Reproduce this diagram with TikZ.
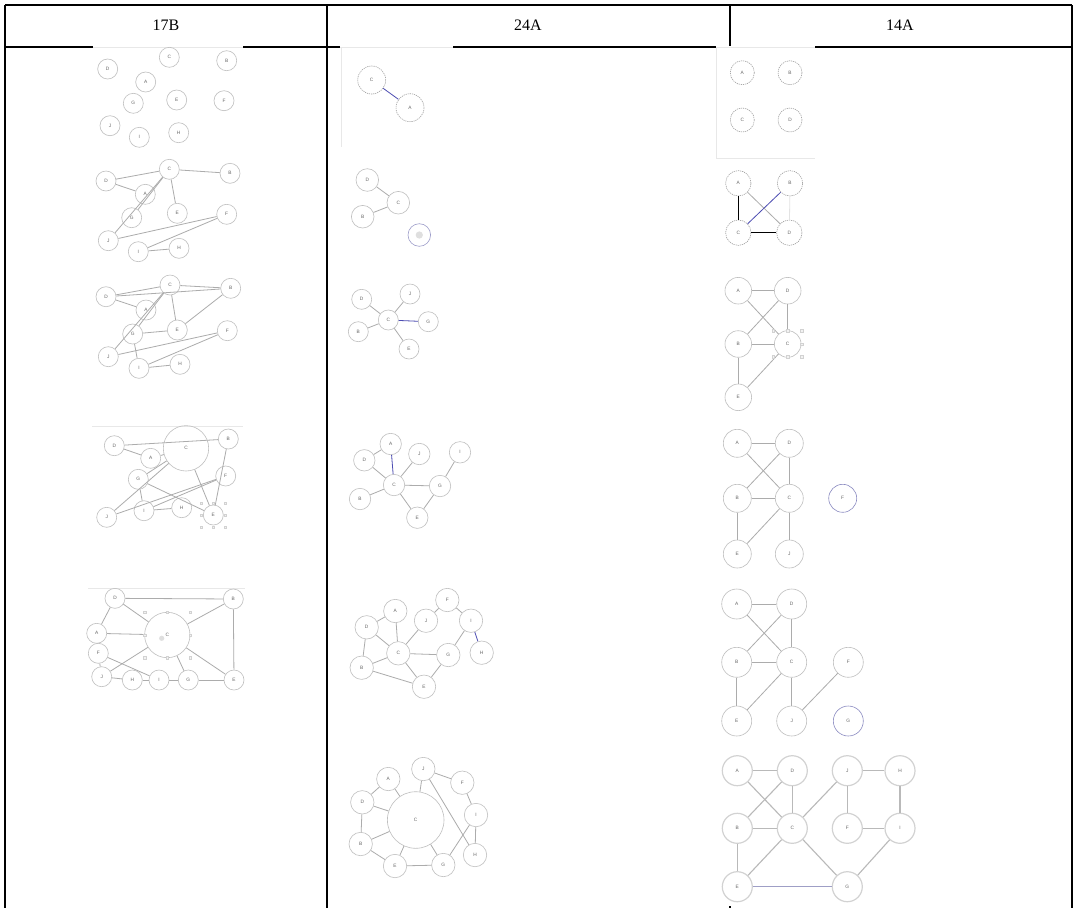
\documentclass[tikz,border=0pt]{standalone}
\usepackage{fontspec}
\setmainfont{Liberation Serif}
\newfontfamily\lblfont{Liberation Sans}
\begin{document}
\begin{tikzpicture}[x=1pt,y=-1pt,
  nd/.style={circle,draw=gray!50,line width=0.6pt,inner sep=0pt,minimum size=20pt,
    font=\lblfont\fontsize{4.8}{4.8}\selectfont,text=gray!80!black},
  dnd/.style={nd,draw=gray!75,dash pattern=on 1.2pt off 0.9pt},
  ed/.style={draw=gray!65,line width=0.8pt},
  sel/.style={draw=blue!40!gray,line width=0.8pt},
  rulel/.style={line width=1.2pt,draw=black},
  faint/.style={draw=gray!18,line width=0.6pt},
  hsq/.style={draw=gray!35,fill=gray!10,line width=0.3pt,minimum size=2.5pt,inner sep=0pt,rectangle},
  hdr/.style={font=\fontsize{16}{16}\selectfont}]
\useasboundingbox (0,0) rectangle (1075,911);
\fill[white] (0,0) rectangle (1075,911);
% table
\draw[rulel] (5,5) -- (1072,5);
\draw[rulel] (5,47) -- (1072,47);
\foreach \xx in {5,327,730,1072} \draw[rulel] (\xx,5) -- (\xx,908);
\node[hdr] (h1) at (166,25) {17B};
\node[hdr] (h2) at (528,25) {24A};
\node[hdr] (h3) at (900,25) {14A};
% pasted screenshots covering the rules
\fill[white] (93,45.6) rectangle (243,48.6);
\fill[white] (340,45.6) rectangle (453,48.6);
\fill[white] (716,45.6) rectangle (815,48.6);
\draw[faint] (93,47) -- (243,47);
\draw[faint] (340,47) -- (453,47);
\draw[faint] (716,47) -- (815,47);
\fill[white] (728,48.6) rectangle (732,906);
% faint screenshot edges
\draw[faint] (92,426) -- (243,426);
\draw[faint] (88,588) -- (245,588);
\draw[faint] (341.7,48) -- (341.7,147);
\draw[faint] (716.7,48) -- (716.7,158) -- (815,158);
% ===== column 17B =====
\foreach \n/\x/\y in {D/107.7/69,C/169.3/57.3,B/226.7/60.7,A/145.7/82,G/133.3/103.3,E/176.7/100,F/224/100.7,J/110/125.7,I/139.3/137.3,H/178.7/132.7}
  \node[nd] (a\n) at (\x,\y) {\n};
\foreach \n/\x/\y in {D/106/181,C/169.3/169.3,B/230/173.3,A/145.3/194.3,G/131.7/217.7,E/177.3/213.3,F/226.7/214.3,J/108.3/240.7,I/138.3/251.7,H/179/248.3}
  \node[nd] (b\n) at (\x,\y) {\n};
\foreach \p/\q in {D/C,C/B,D/A,C/J,C/G,C/E,J/F,I/F,I/H}
  \draw[ed] (b\p) -- (b\q);
\foreach \n/\x/\y in {D/106/296.7,C/170/285,B/230.7/288.3,A/146/310,G/132.7/334,E/177.3/330,F/227.3/330.7,J/108.3/356.7,I/139/368.3,H/180/364.3}
  \node[nd] (c\n) at (\x,\y) {\n};
\foreach \p/\q in {D/C,D/B,C/B,D/A,C/J,C/G,C/E,B/E,G/E,J/F,I/F,I/H,G/I}
  \draw[ed] (c\p) -- (c\q);
\foreach \n/\x/\y in {D/114.3/445.7,B/228.3/439,A/150.7/458.3,G/138.3/479.3,F/225.7/476,J/106.7/517.3,I/144/510.7,H/181.7/507.7,E/213.3/515}
  \node[nd] (d\n) at (\x,\y) {\n};
\node[nd,minimum size=45.4pt] (dC) at (186,448.3) {C};
\foreach \p/\q in {D/B,D/A,A/C,J/C,G/C,G/E,J/F,I/F,I/H,C/E,B/E,G/I}
  \draw[ed] (d\p) -- (d\q);
\foreach \dx/\dy in {-12/-12,0/-12,12/-12,-12/0,12/0,-12/12,0/12,12/12}
  \node[hsq] at ([shift={(\dx,\dy)}]dE.center) {};
\foreach \n/\x/\y in {D/115/598.3,B/233.3/599,A/96.7/633.3,F/98.3/653.3,J/101.7/676.7,H/132.3/680,I/159/680,G/188.3/680,E/234/680}
  \node[nd] (e\n) at (\x,\y) {\n};
\node[nd,minimum size=45.4pt] (eC) at (167.3,635) {C};
\fill[gray!25] (161.7,638.3) circle (2.6);
\foreach \p/\q in {D/B,D/A,D/C,A/C,C/B,C/J,F/I,F/J,J/H,H/I,I/G,G/E,C/G,C/E,B/E}
  \draw[ed] (e\p) -- (e\q);
\foreach \dx/\dy in {-22.7/-22.7,0/-22.7,22.7/-22.7,-22.7/0,22.7/0,-22.7/22.7,0/22.7,22.7/22.7}
  \node[hsq] at ([shift={(\dx,\dy)}]eC.center) {};
% ===== column 24A =====
\node[dnd,minimum size=28pt] (fC) at (371.7,80) {C};
\node[dnd,minimum size=28pt] (fA) at (410,107.7) {A};
\draw[sel] (fC) -- (fA);
\begin{scope}[nd/.append style={minimum size=22.6pt}]
\foreach \n/\x/\y in {D/367.3/180,C/398.3/202.7,B/362.7/216.7}
  \node[nd] (g\n) at (\x,\y) {\n};
\node[nd,draw=blue!30!gray!60] (gX) at (419.3,235) {};
\end{scope}
\fill[gray!25] (gX.center) circle (3.6);
\foreach \p/\q in {D/C,B/C} \draw[ed] (g\p) -- (g\q);
\foreach \n/\x/\y in {D/361.7/299.3,J/410/294,C/388.3/320,G/428.3/321.7,B/358.3/331.7,E/409/349}
  \node[nd] (h\n) at (\x,\y) {\n};
\foreach \p/\q in {D/C,J/C,B/C,C/E} \draw[ed] (h\p) -- (h\q);
\draw[sel] (hC) -- (hG);
\begin{scope}[nd/.append style={minimum size=21.4pt}]
\foreach \n/\x/\y in {A/390.7/444,D/364.3/460.3,J/419.3/454,I/460/452.3,C/394/485,G/440/486,B/360/499,E/417.3/517.7}
  \node[nd] (i\n) at (\x,\y) {\n};
\end{scope}
\foreach \p/\q in {D/A,D/C,J/C,C/G,B/C,C/E,E/G,G/I} \draw[ed] (i\p) -- (i\q);
\draw[sel] (iA) -- (iC);
\begin{scope}[nd/.append style={minimum size=23.4pt}]
\foreach \n/\x/\y in {F/447.3/600,A/395.3/611,J/426/620.7,I/471/620.7,D/366.7/627.3,C/398.3/653.3,G/448.3/655,H/481.7/652.7,B/361.7/667.7,E/424/686.7}
  \node[nd] (j\n) at (\x,\y) {\n};
\end{scope}
\foreach \p/\q in {D/A,A/C,D/C,D/B,B/C,B/E,C/J,C/G,C/E,E/G,G/I,J/F,F/I} \draw[ed] (j\p) -- (j\q);
\draw[sel] (jI) -- (jH);
\begin{scope}[nd/.append style={minimum size=23.4pt}]
\foreach \n/\x/\y in {J/423.3/769,A/388.3/779,F/462.3/782.7,D/362.3/802.3,I/476/815,B/360.7/844,H/475/855,E/395/866,G/443.3/865}
  \node[nd] (k\n) at (\x,\y) {\n};
\node[nd,minimum size=56.6pt] (kC) at (415.7,820) {C};
\end{scope}
\foreach \p/\q in {D/A,A/C,D/C,D/B,B/C,B/E,E/C,E/G,G/C,G/I,J/C,J/F,J/H,F/I,I/H} \draw[ed] (k\p) -- (k\q);
% ===== column 14A =====
\begin{scope}[nd/.append style={minimum size=24pt}]
\foreach \n/\x/\y in {A/742.3/72.7,B/790/72.7,C/742.3/120,D/790/120}
  \node[dnd] (l\n) at (\x,\y) {\n};
\end{scope}
\begin{scope}[nd/.append style={minimum size=25.4pt}]
\foreach \n/\x/\y in {A/738.3/183.3,B/790/183.3,C/738.3/232.7,D/789.3/232.7}
  \node[dnd] (m\n) at (\x,\y) {\n};
\end{scope}
\draw[line width=0.8pt,black] (mA) -- (mC);
\draw[line width=0.8pt,black] (mC) -- (mD);
\draw[ed] (mA) -- (mD);
\draw[sel] (mB) -- (mC);
\draw[draw=gray!22,line width=0.8pt] (mB) -- (mD);
\begin{scope}[nd/.append style={minimum size=26.6pt}]
\foreach \n/\x/\y in {A/738.3/290.7,D/787.7/290.7,B/738.3/344,C/787.7/344,E/738.3/397.3}
  \node[nd] (n\n) at (\x,\y) {\n};
\end{scope}
\foreach \p/\q in {A/D,A/C,D/B,D/C,B/C,B/E,E/C} \draw[ed] (n\p) -- (n\q);
\foreach \dx/\dy in {-14.4/-13.3,0/-13.3,14/-13.3,14/0,-14.4/12.7,0/12.7,14/12.7}
  \node[hsq] at ([shift={(\dx,\dy)}]nC.center) {};
\begin{scope}[nd/.append style={minimum size=28pt}]
\foreach \n/\x/\y in {A/737.3/443.3,D/789.3/443.3,B/737.3/498.3,C/789.3/498.3,E/737.3/554,J/789.3/554}
  \node[nd] (o\n) at (\x,\y) {\n};
\node[nd,draw=blue!30!gray!70] (oF) at (842.7,498.3) {F};
\end{scope}
\foreach \p/\q in {A/D,A/C,D/B,D/C,B/C,B/E,E/C,C/J} \draw[ed] (o\p) -- (o\q);
\begin{scope}[nd/.append style={minimum size=30pt}]
\foreach \n/\x/\y in {A/736.7/604,D/791.7/604,B/736.7/662.3,C/791.7/662.3,F/848.3/662.3,E/736.7/721,J/791.7/721}
  \node[nd] (p\n) at (\x,\y) {\n};
\node[nd,draw=blue!30!gray!70] (pG) at (848.3,721) {G};
\end{scope}
\foreach \p/\q in {A/D,A/C,D/B,D/C,B/C,B/E,E/C,C/J,J/F} \draw[ed] (p\p) -- (p\q);
\begin{scope}[nd/.append style={minimum size=30pt,draw=gray!35,line width=1.2pt}]
\foreach \n/\x/\y in {A/737.3/770.7,D/792.3/770.7,J/847.3/770.7,H/900/770.7,B/737.3/828.3,C/792.3/828.3,F/847.3/828.3,I/900/828.3,E/737.3/886.7,G/847.3/886.7}
  \node[nd] (r\n) at (\x,\y) {\n};
\end{scope}
\foreach \p/\q in {A/D,A/C,D/B,D/C,B/C,B/E,E/C,C/J,C/G,J/H,J/F,F/I,H/I,I/G}
  \draw[ed,draw=gray!55,line width=1.1pt] (r\p) -- (r\q);
\draw[sel,draw=blue!25!gray!60,line width=1.1pt] (rE) -- (rG);
\end{tikzpicture}
\end{document}
